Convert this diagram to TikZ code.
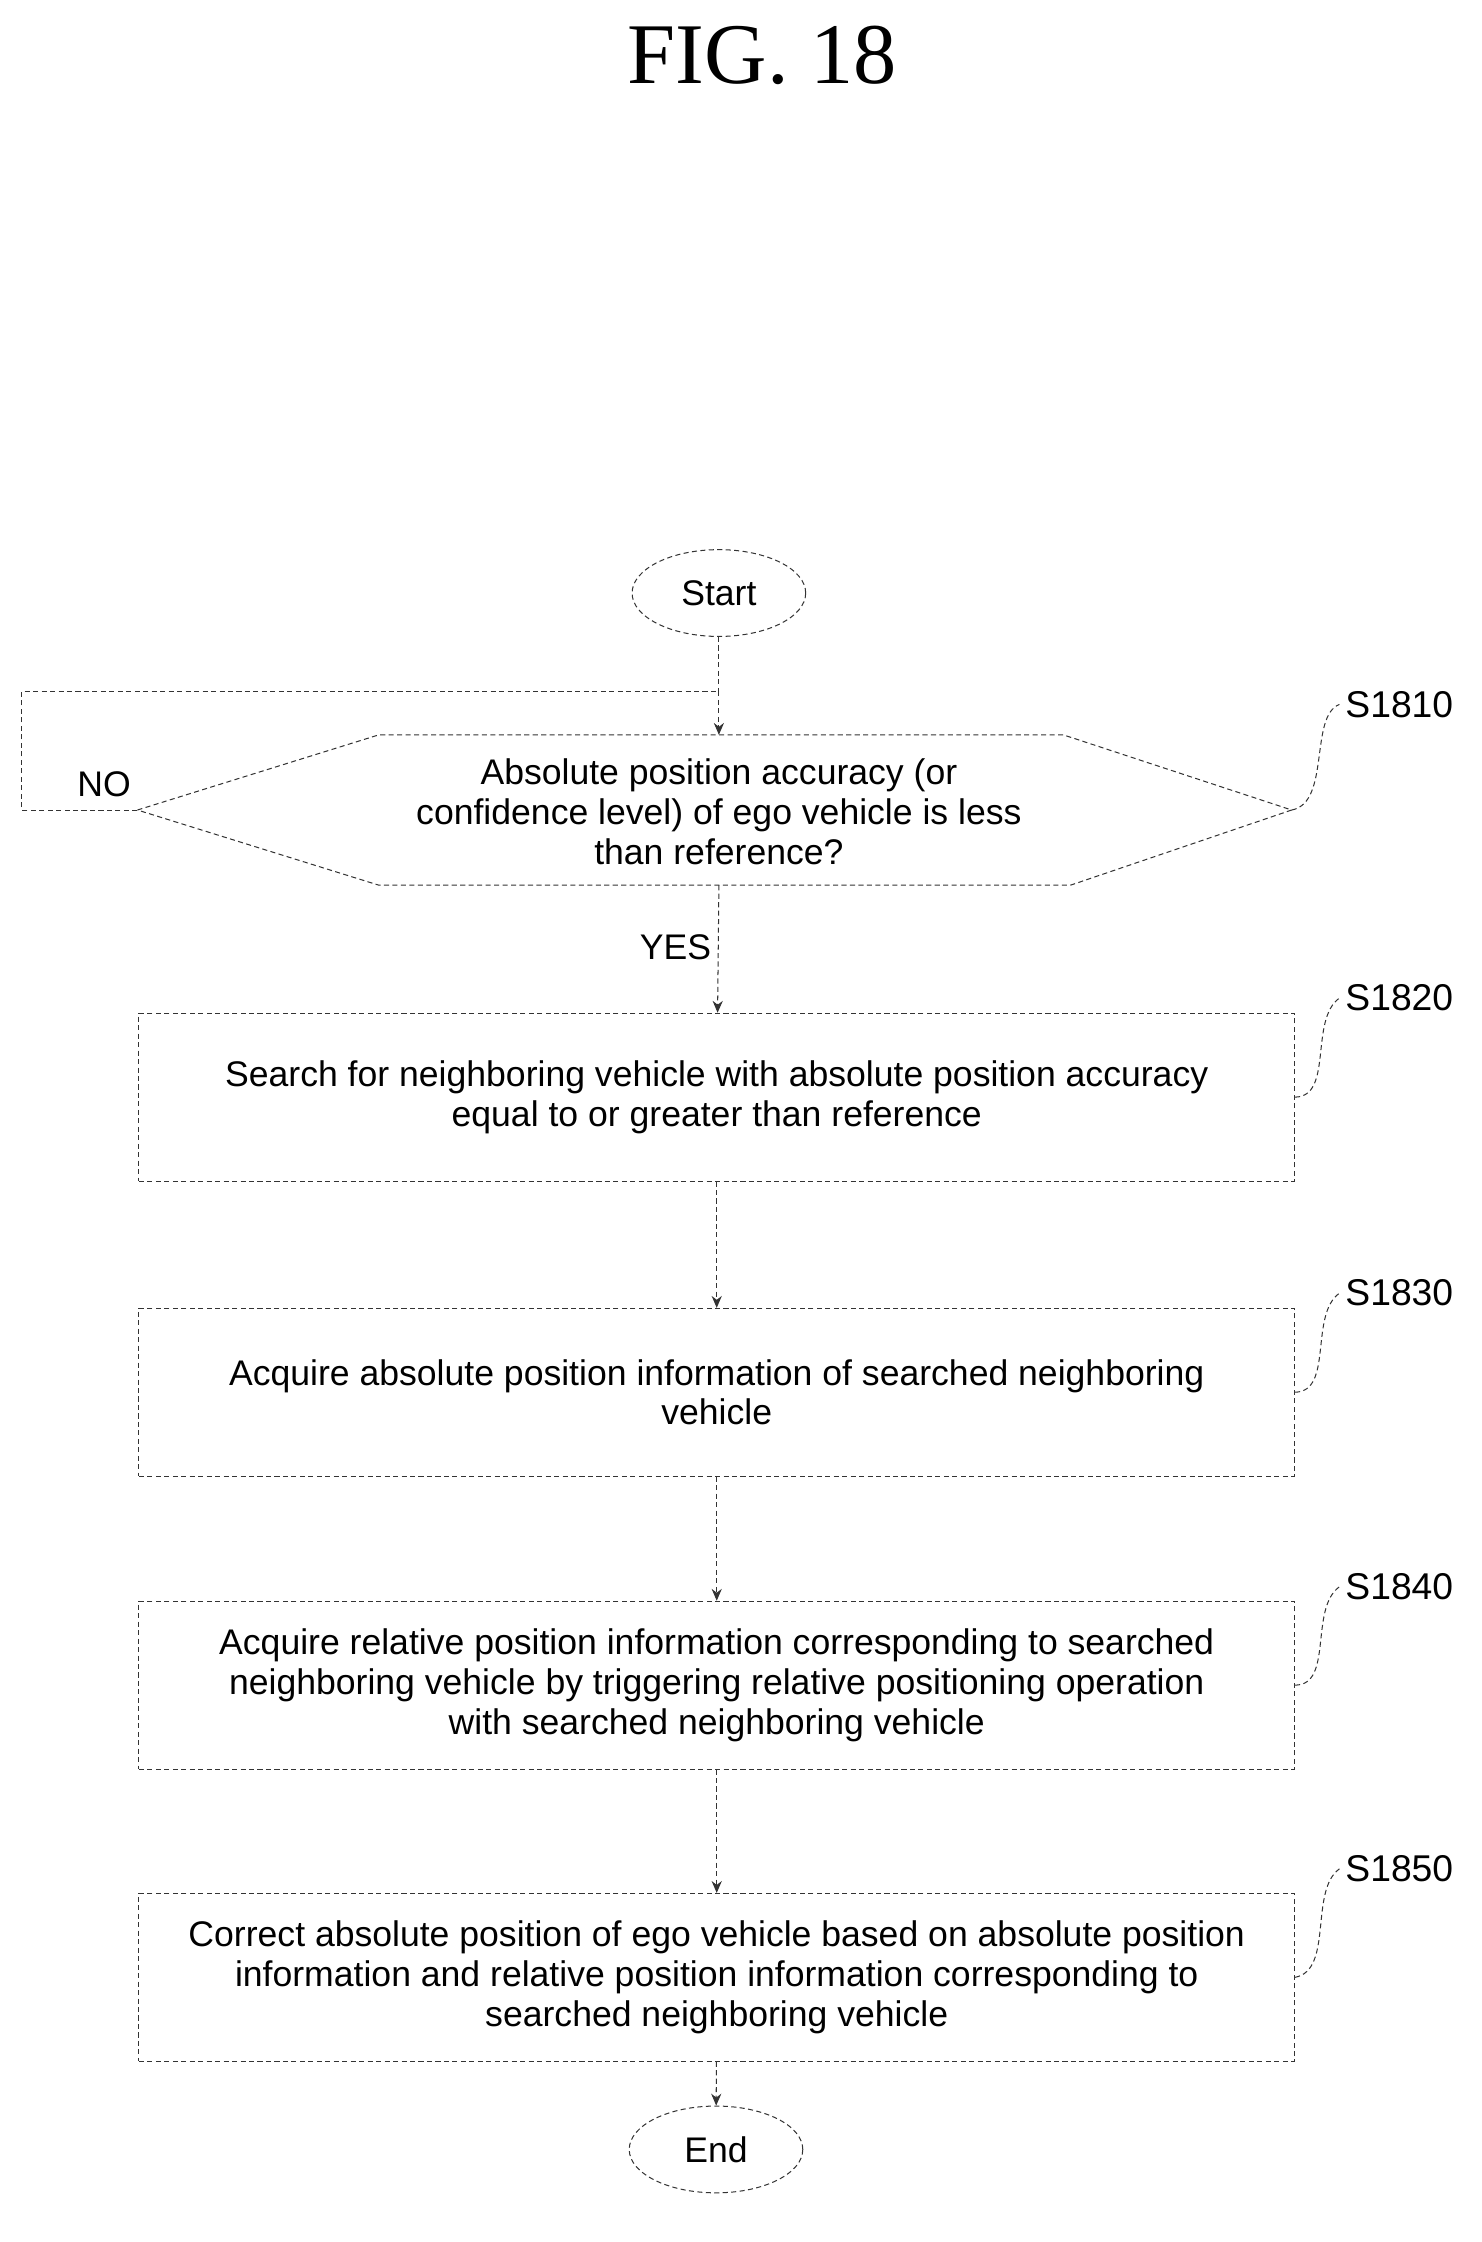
\documentclass[tikz,border=0pt]{standalone}
\usepackage{fontspec}
\setmainfont{Liberation Sans}
\newfontfamily\titlefont{Liberation Serif}
\usetikzlibrary{arrows.meta,shapes.geometric}
\begin{document}
\begin{tikzpicture}[x=0.03cm,y=-0.03cm,
  ln/.style={densely dashed,line width=0.6pt,draw=black!80},
  arr/.style={ln,-{Stealth[length=7pt,width=6pt]}},
  box/.style={ln,rectangle,minimum width=799*0.03cm,minimum height=116*0.03cm,align=center,font=\fontsize{21}{23.5}\selectfont},
  term/.style={ln,ellipse,minimum width=120*0.03cm,minimum height=60*0.03cm,font=\fontsize{21}{24}\selectfont},
  lab/.style={font=\fontsize{22}{24}\selectfont,anchor=west},
  txt/.style={font=\fontsize{21}{23.5}\selectfont,align=center}]
\useasboundingbox (0,0) rectangle (1024,1550);
\node[font=\titlefont\fontsize{51}{54}\selectfont] (title) at (527,38) {FIG. 18};
\node[term] (start) at (497,410) {Start};
\draw[ln] (95,560) -- (262,508) -- (735,508) -- (893,560) -- (740,612) -- (262,612) -- cycle;
\coordinate (hl) at (95,560); \coordinate (hr) at (893,560);
\coordinate (ht) at (497,508); \coordinate (hb) at (497,612);
\node[txt] (hex) at (497,561) {Absolute position accuracy (or\\confidence level) of ego vehicle is less\\than reference?};
\coordinate (c1) at (15,560); \coordinate (c2) at (15,478); \coordinate (c3) at (497,478);
\draw[ln] (start) -- (c3);
\draw[ln] (hl) -- (c1) -- (c2) -- (c3);
\draw[arr] (c3) -- (ht);
\node[font=\fontsize{21}{24}\selectfont] (no) at (72,542) {NO};
\node[box] (b1) at (495.5,758.5) {Search for neighboring vehicle with absolute position accuracy\\equal to or greater than reference};
\node[font=\fontsize{21}{24}\selectfont] (yes) at (467,655) {YES};
\draw[arr] (hb) -- (b1);
\node[box] (b2) at (495.5,962.5) {Acquire absolute position information of searched neighboring\\vehicle};
\node[box] (b3) at (495.5,1165) {Acquire relative position information corresponding to searched\\neighboring vehicle by triggering relative positioning operation\\with searched neighboring vehicle};
\node[box] (b4) at (495.5,1367) {Correct absolute position of ego vehicle based on absolute position\\information and relative position information corresponding to\\searched neighboring vehicle};
\node[term] (end) at (495,1486) {End};
\draw[arr] (b1) -- (b2);
\draw[arr] (b2) -- (b3);
\draw[arr] (b3) -- (b4);
\draw[arr] (b4) -- (end);
\foreach \n/\y/\t in {hr/560/S1810, b1/763/S1820, b2/967/S1830, b3/1170/S1840, b4/1365/S1850}{
  \node[lab] (l\t) at (926,\y-73) {\t};
}
\draw[ln] (hr) .. controls (920,555) and (905,495) .. (lS1810.west);
\draw[ln] (b1.east) .. controls (922,758) and (905,705) .. (lS1820.west);
\draw[ln] (b2.east) .. controls (922,962) and (905,909) .. (lS1830.west);
\draw[ln] (b3.east) .. controls (922,1165) and (905,1112) .. (lS1840.west);
\draw[ln] (b4.east) .. controls (922,1362) and (905,1307) .. (lS1850.west);
\end{tikzpicture}
\end{document}
